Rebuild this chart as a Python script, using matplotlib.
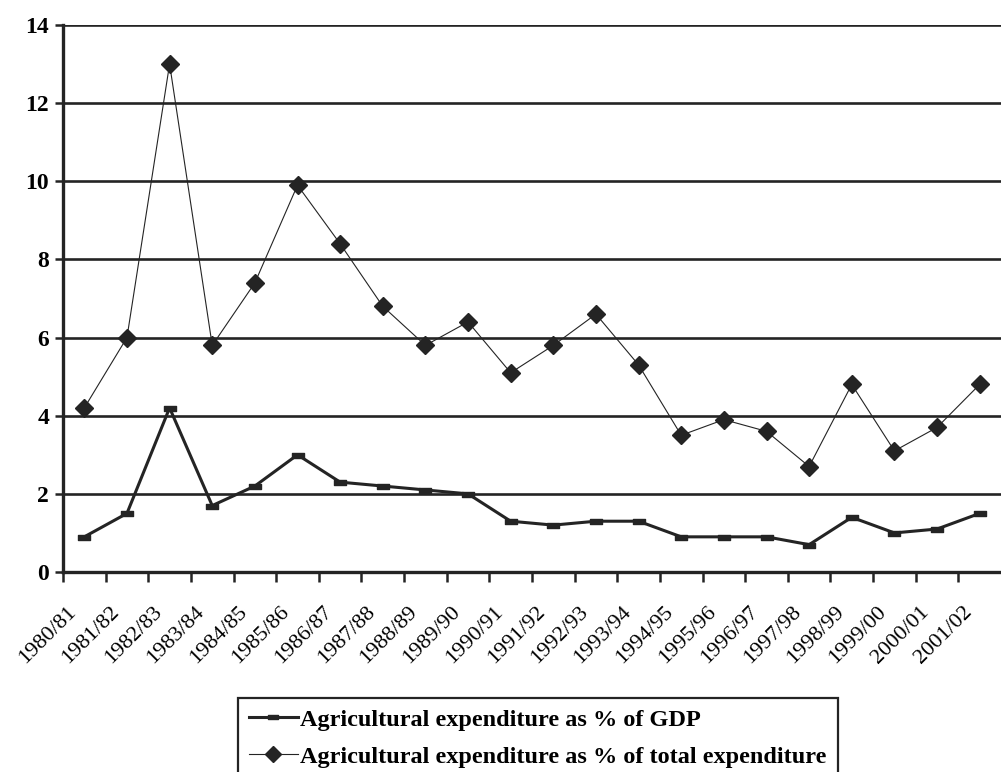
import matplotlib
matplotlib.use("Agg")
import matplotlib.pyplot as plt
import numpy as np
from matplotlib.path import Path
from matplotlib.transforms import ScaledTranslation

years = ["1980/81", "1981/82", "1982/83", "1983/84", "1984/85", "1985/86",
         "1986/87", "1987/88", "1988/89", "1989/90", "1990/91", "1991/92",
         "1992/93", "1993/94", "1994/95", "1995/96", "1996/97", "1997/98",
         "1998/99", "1999/00", "2000/01", "2001/02"]
pct_gdp = [0.9, 1.5, 4.2, 1.7, 2.2, 3.0, 2.3, 2.2, 2.1, 2.0, 1.3,
           1.2, 1.3, 1.3, 0.9, 0.9, 0.9, 0.7, 1.4, 1.0, 1.1, 1.5]
pct_total = [4.2, 6.0, 13.0, 5.8, 7.4, 9.9, 8.4, 6.8, 5.8, 6.4, 5.1,
             5.8, 6.6, 5.3, 3.5, 3.9, 3.6, 2.7, 4.8, 3.1, 3.7, 4.8]
y_ticks = [0, 2, 4, 6, 8, 10, 12, 14]

label_gdp = "Agricultural expenditure as % of GDP"
label_total = "Agricultural expenditure as % of total expenditure"

ink = "#242424"
plt.rcParams["font.family"] = ["Liberation Serif", "DejaVu Serif"]

fig = plt.figure(figsize=(10.01, 7.72), dpi=100)
ax = fig.add_axes([63 / 1001, 1 - 572 / 772, 1 - 63 / 1001, (572 - 25) / 772])

x = np.arange(len(years))

# flat rectangular marker for the GDP series
dash = Path([(-1, -0.45), (1, -0.45), (1, 0.45), (-1, 0.45), (-1, -0.45)],
            [Path.MOVETO, Path.LINETO, Path.LINETO, Path.LINETO, Path.CLOSEPOLY])

ax.plot(x, pct_gdp, color=ink, lw=2.2, marker=dash, ms=8,
        mfc=ink, mec=ink, label=label_gdp, zorder=4)
ax.plot(x, pct_total, color=ink, lw=0.8, marker="D", ms=9,
        mfc=ink, mec=ink, label=label_total, zorder=5)

ax.set_xlim(-0.5, len(years) - 0.5)
ax.set_ylim(0, 14)
ax.set_yticks(y_ticks)
ax.set_yticklabels([str(v) for v in y_ticks], fontsize=17, fontweight="bold")

# horizontal gridlines
for v in y_ticks[1:]:
    ax.axhline(v, color=ink, lw=1.9, zorder=2)

ax.set_xticks(x)
ax.set_xticklabels(years, rotation=45, ha="right", fontsize=16)
ax.tick_params(axis="x", which="major", length=0, pad=22)
ax.set_xticks(np.arange(len(years)) - 0.5, minor=True)
ax.tick_params(axis="x", which="minor", length=7, width=1.8, color=ink, direction="out")
ax.tick_params(axis="y", length=6, width=1.8, color=ink, direction="out", pad=4)
for lbl in ax.get_xticklabels():
    lbl.set_transform(lbl.get_transform() + ScaledTranslation(-0.04, 0, fig.dpi_scale_trans))

for side in ("top", "right"):
    ax.spines[side].set_visible(False)
for side in ("left", "bottom"):
    ax.spines[side].set_linewidth(2.4)
    ax.spines[side].set_color(ink)

leg = fig.legend(loc="upper left", bbox_to_anchor=(238 / 1001, 1 - 698 / 772),
                 prop={"size": 17.5, "weight": "bold"}, frameon=True,
                 fancybox=False, edgecolor=ink, framealpha=1,
                 handlelength=2.0, handletextpad=0.12, labelspacing=0.6,
                 borderpad=0.45, borderaxespad=0)
leg.get_frame().set_linewidth(1.6)
for h in leg.legend_handles:
    h.set_markersize(h.get_markersize() * 0.9)

fig.savefig("out.png", dpi=100)
